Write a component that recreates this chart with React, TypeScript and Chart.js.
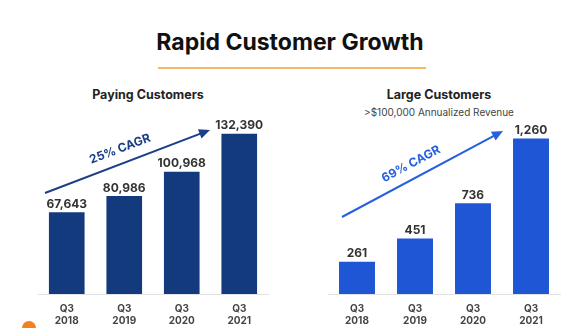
import React, { useEffect, useRef } from "react";
import { Chart, registerables } from "chart.js";

Chart.register(...registerables);

const categories: string[][] = [["Q3", "2018"], ["Q3", "2019"], ["Q3", "2020"], ["Q3", "2021"]];
const payingCustomers = [67643, 80986, 100968, 132390];
const largeCustomers = [261, 451, 736, 1260];
const payingMax = 143760;
const largeMax = 1411;
const payingCagr = "25% CAGR";
const largeCagr = "69% CAGR";

const FONT = "Inter, 'Noto Sans', sans-serif";

type ArrowSpec = { x0: number; y0: number; x1: number; y1: number; label: string; color: string; tx: number; ty: number };

function makeChart(
  canvas: HTMLCanvasElement,
  values: number[],
  max: number,
  color: string,
  arrow: ArrowSpec,
  pad: { left: number; right: number; bottom: number }
) {
  const labelPlugin = {
    id: "valueLabels",
    afterDatasetsDraw(chart: any) {
      const ctx = chart.ctx;
      const meta = chart.getDatasetMeta(0);
      ctx.save();
      ctx.font = `bold 12px ${FONT}`;
      ctx.fillStyle = "#333333";
      ctx.textAlign = "center";
      ctx.textBaseline = "bottom";
      meta.data.forEach((bar: any, i: number) => {
        ctx.fillText(values[i].toLocaleString("en-US"), bar.x, bar.y - 2);
      });
      // arrow
      const { x0, y0, x1, y1 } = arrow;
      const ang = Math.atan2(y1 - y0, x1 - x0);
      const head = 11;
      ctx.strokeStyle = arrow.color;
      ctx.fillStyle = arrow.color;
      ctx.lineWidth = 2;
      ctx.beginPath();
      ctx.moveTo(x0, y0);
      ctx.lineTo(x1 - head * 0.8 * Math.cos(ang), y1 - head * 0.8 * Math.sin(ang));
      ctx.stroke();
      ctx.beginPath();
      ctx.moveTo(x1, y1);
      ctx.lineTo(x1 - head * Math.cos(ang) + 5 * Math.sin(ang), y1 - head * Math.sin(ang) - 5 * Math.cos(ang));
      ctx.lineTo(x1 - head * Math.cos(ang) - 5 * Math.sin(ang), y1 - head * Math.sin(ang) + 5 * Math.cos(ang));
      ctx.closePath();
      ctx.fill();
      ctx.save();
      ctx.translate(arrow.tx, arrow.ty);
      ctx.rotate(ang);
      ctx.font = `bold 12px ${FONT}`;
      ctx.textAlign = "center";
      ctx.textBaseline = "middle";
      ctx.fillText(arrow.label, 0, 0);
      ctx.restore();
      ctx.restore();
    },
  };

  return new Chart(canvas, {
    type: "bar",
    data: {
      labels: categories,
      datasets: [
        {
          data: values,
          backgroundColor: color,
          borderWidth: 0,
          barPercentage: 1,
          categoryPercentage: 0.62,
        },
      ],
    },
    options: {
      responsive: false,
      animation: false,
      devicePixelRatio: 1,
      layout: { padding: { left: pad.left, right: pad.right, top: 0, bottom: pad.bottom } },
      plugins: { legend: { display: false }, tooltip: { enabled: false } },
      scales: {
        x: {
          grid: { display: false },
          border: { display: true, color: "#e2e2e2", width: 1 },
          ticks: { color: "#444444", font: { family: FONT, size: 10, weight: "bold", lineHeight: 1.2 }, padding: 1 },
        },
        y: { display: false, min: 0, max },
      },
    },
    plugins: [labelPlugin],
  });
}

export default function App() {
  const leftRef = useRef<HTMLCanvasElement>(null);
  const rightRef = useRef<HTMLCanvasElement>(null);

  useEffect(() => {
    const c1 = makeChart(
      leftRef.current!,
      payingCustomers,
      payingMax,
      "#143a7e",
      { x0: 25, y0: 73, x1: 190, y1: 10, label: payingCagr, color: "#1c3f88", tx: 100, ty: 29 },
      { left: 18, right: 12, bottom: 4 }
    );
    const c2 = makeChart(
      rightRef.current!,
      largeCustomers,
      largeMax,
      "#1f56d6",
      { x0: 32, y0: 97, x1: 193, y1: 11, label: largeCagr, color: "#2560de", tx: 101, ty: 44 },
      { left: 18, right: 10, bottom: 4 }
    );
    return () => {
      c1.destroy();
      c2.destroy();
    };
  }, []);

  return (
    <div style={{ position: "fixed", left: 0, top: 0, width: 576, height: 328, background: "#ffffff", overflow: "hidden", fontFamily: FONT }}>
      <div style={{ position: "absolute", left: 0, width: 580, top: 28, textAlign: "center", fontSize: 23, fontWeight: 700, color: "#111", lineHeight: "28px" }}>
        Rapid Customer Growth
      </div>
      <div style={{ position: "absolute", left: 158, top: 67, width: 268, height: 2, background: "#f7b968" }} />
      <div style={{ position: "absolute", left: 48, width: 200, top: 87, textAlign: "center", fontSize: 12.5, fontWeight: 700, color: "#222", lineHeight: "16px" }}>
        Paying Customers
      </div>
      <div style={{ position: "absolute", left: 339, width: 200, top: 87, textAlign: "center", fontSize: 12.5, fontWeight: 700, color: "#222", lineHeight: "16px" }}>
        Large Customers
      </div>
      <div style={{ position: "absolute", left: 339, width: 200, top: 105, textAlign: "center", fontSize: 10, color: "#444", lineHeight: "14px" }}>
        &gt;$100,000 Annualized Revenue
      </div>
      <canvas ref={leftRef} width={260} height={212} style={{ position: "absolute", left: 20, top: 120 }} />
      <canvas ref={rightRef} width={260} height={212} style={{ position: "absolute", left: 310, top: 120 }} />
      <div style={{ position: "absolute", left: 22, top: 321, width: 14, height: 10, borderRadius: "7px 7px 0 0", background: "#f48120" }} />
    </div>
  );
}
